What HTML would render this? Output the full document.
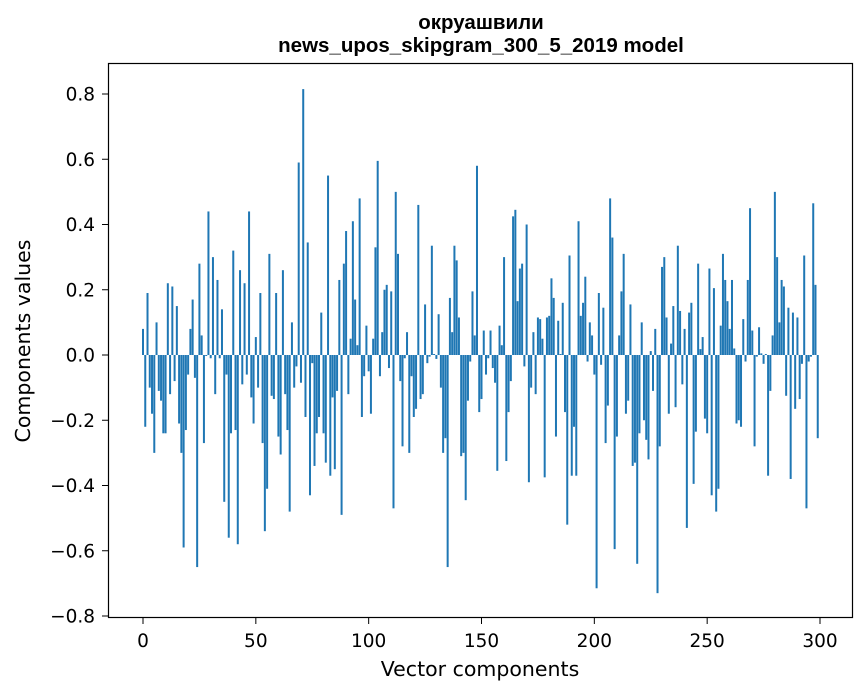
<!DOCTYPE html>
<html><head><meta charset="utf-8"><style>
body{margin:0;background:#fff;}
svg{display:block;font-family:"DejaVu Sans","Liberation Sans",sans-serif;}
</style></head><body>
<svg id="chart" width="867" height="696" viewBox="0 0 867 696" xmlns="http://www.w3.org/2000/svg">
<rect width="867" height="696" fill="#fff"/>
<text x="481" y="29" text-anchor="middle" font-size="20.5" font-weight="bold" font-family="Liberation Sans, sans-serif">окруашвили</text>
<text x="481" y="52" text-anchor="middle" font-size="20.5" font-weight="bold" font-family="Liberation Sans, sans-serif">news_upos_skipgram_300_5_2019 model</text>
<g id="bars"></g>
<g id="axes"></g>
<rect x="108.5" y="63.5" width="744" height="554" fill="none" stroke="#000" stroke-width="1.2"/>
<text x="480" y="676" text-anchor="middle" font-size="20.5">Vector components</text>
<text transform="translate(30,341) rotate(-90)" text-anchor="middle" font-size="20.5">Components values</text>
</svg>
<script>
const values = [0.08,-0.22,0.19,-0.10,-0.18,-0.30,0.10,-0.11,-0.14,-0.24,-0.24,0.22,-0.12,0.21,-0.08,0.15,-0.21,-0.30,-0.59,-0.23,-0.06,0.08,0.17,-0.07,-0.65,0.28,0.06,-0.27,-0.003,0.44,-0.01,0.30,-0.12,0.23,-0.01,0.14,-0.45,-0.06,-0.56,-0.24,0.32,-0.23,-0.58,0.26,-0.09,0.22,-0.06,0.44,-0.13,-0.21,
0.055,-0.10,0.19,-0.27,-0.54,-0.41,0.31,-0.125,-0.135,0.19,-0.25,-0.305,0.26,-0.12,-0.23,-0.48,0.10,-0.10,-0.035,0.59,-0.085,0.815,-0.19,0.345,-0.43,-0.025,-0.34,-0.24,-0.19,0.13,-0.24,-0.33,0.55,-0.37,-0.13,-0.35,-0.11,0.23,-0.49,0.28,0.38,-0.12,0.05,0.41,0.17,0.03,0.48,-0.19,-0.065,0.09,
-0.05,-0.18,0.05,0.33,0.595,-0.065,0.07,0.20,0.215,-0.04,0.195,-0.47,0.50,0.31,-0.08,-0.28,-0.01,0.07,-0.30,-0.065,-0.19,-0.165,0.46,-0.135,-0.12,0.155,-0.025,-0.005,0.335,0.003,-0.012,0.125,-0.10,-0.30,-0.255,-0.65,0.175,0.07,0.335,0.29,0.115,-0.31,-0.30,-0.445,-0.14,-0.02,0.195,0.06,0.58,-0.175,
-0.135,0.075,-0.06,-0.01,0.075,-0.04,-0.085,-0.355,0.09,0.03,0.30,-0.325,-0.175,-0.08,0.425,0.445,0.165,0.265,0.28,-0.035,0.40,-0.39,-0.10,0.07,-0.12,0.115,0.11,0.05,-0.375,0.115,0.12,0.235,0.175,-0.25,0.105,0.003,0.16,-0.175,-0.52,0.305,-0.37,-0.22,-0.37,0.41,0.12,0.16,0.24,-0.02,0.10,0.06,
-0.06,-0.715,0.19,-0.03,0.145,-0.27,-0.155,0.48,0.36,-0.595,-0.25,0.06,0.195,0.31,-0.18,-0.14,0.155,-0.34,-0.33,-0.64,-0.24,0.10,-0.20,-0.26,-0.32,0.012,-0.11,0.08,-0.73,-0.28,0.27,0.30,0.115,-0.18,0.035,0.15,-0.16,0.335,0.135,-0.09,0.08,-0.53,0.13,0.16,-0.395,-0.235,0.28,0.018,0.055,-0.195,
-0.24,0.265,-0.43,0.205,-0.48,-0.41,0.09,0.31,0.23,0.165,0.08,0.23,0.02,-0.21,-0.20,-0.22,0.11,-0.02,0.23,0.45,0.075,-0.28,-0.005,0.085,0.005,-0.027,0.003,-0.37,-0.11,0.06,0.50,0.30,0.10,0.23,0.21,-0.125,0.145,-0.38,0.13,-0.165,0.115,-0.135,-0.027,0.305,-0.47,-0.02,-0.005,0.465,0.215,-0.255];
const xTicks = [0,50,100,150,200,250,300];
const yTicks = [-0.8,-0.6,-0.4,-0.2,0.0,0.2,0.4,0.6,0.8];

const NS = "http://www.w3.org/2000/svg";
function xs(v){ return 143 + v * (677/300); }
function ys(v){ return 355 - v * 326.25; }
const barsG = document.getElementById('bars');
const axesG = document.getElementById('axes');
const bw = 2.0;
values.forEach((v, i) => {
  const r = document.createElementNS(NS, 'rect');
  
  
  const y0 = ys(Math.max(v, 0)), y1 = ys(Math.min(v, 0));
  r.setAttribute('x', xs(i) - bw / 2);
  r.setAttribute('y', y0);
  r.setAttribute('width', bw);
  r.setAttribute('height', Math.max(y1 - y0, 0.3));
  r.setAttribute('fill', '#1f77b4');
  barsG.appendChild(r);
});
xTicks.forEach(t => {
  const l = document.createElementNS(NS, 'line');
  
  
  l.setAttribute('x1', xs(t)); l.setAttribute('x2', xs(t));
  l.setAttribute('y1', 617.5); l.setAttribute('y2', 624);
  l.setAttribute('stroke', '#000');
  axesG.appendChild(l);
  const tx = document.createElementNS(NS, 'text');
  
  
  tx.setAttribute('x', xs(t)); tx.setAttribute('y', 647);
  tx.setAttribute('text-anchor', 'middle'); tx.setAttribute('font-size', '18.5');
  tx.textContent = String(t);
  axesG.appendChild(tx);
});
yTicks.forEach(t => {
  const l = document.createElementNS(NS, 'line');
  
  
  l.setAttribute('x1', 102); l.setAttribute('x2', 108.5);
  l.setAttribute('y1', ys(t)); l.setAttribute('y2', ys(t));
  l.setAttribute('stroke', '#000');
  axesG.appendChild(l);
  const tx = document.createElementNS(NS, 'text');
  
  
  tx.setAttribute('x', 95); tx.setAttribute('y', ys(t) + 6.5);
  tx.setAttribute('text-anchor', 'end'); tx.setAttribute('font-size', '18.5');
  tx.textContent = (t < 0 ? '\u2212' : '') + Math.abs(t).toFixed(1);
  axesG.appendChild(tx);
});
</script>
</body></html>
